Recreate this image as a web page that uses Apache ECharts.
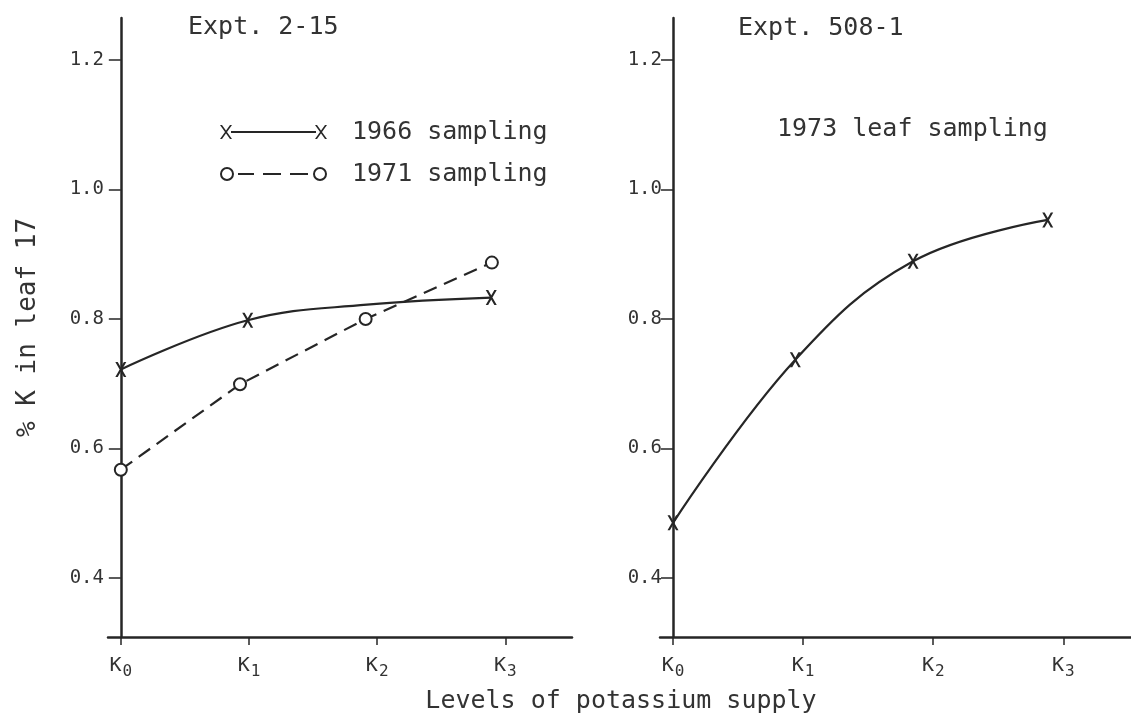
<!DOCTYPE html>
<html>
<head>
<meta charset="utf-8">
<script src="https://cdn.jsdelivr.net/npm/echarts@6/dist/echarts.min.js"></script>
<style>
html,body{margin:0;padding:0;background:#fff;}
#chart{width:1131px;height:715px;}
</style>
</head>
<body>
<div id="chart"></div>
<script>
// ---- data ----
const xTickLabels = ['K0', 'K1', 'K2', 'K3'];
const xTickValues = [0, 1, 2, 3];
const yTickValues = [0.4, 0.6, 0.8, 1.0, 1.2];

const s1966X = [0, 0.99, 1.92, 2.89];
const s1966Y = [0.722, 0.798, 0.822, 0.833];
const s1966Marked = [true, true, false, true];

const s1971X = [0, 0.93, 1.91, 2.895];
const s1971Y = [0.567, 0.699, 0.800, 0.887];

const s1973X = [0, 0.94, 1.845, 2.88];
const s1973Y = [0.485, 0.737, 0.889, 0.953];

const panelTitles = ['Expt. 2-15', 'Expt. 508-1'];
const rightNote = '1973 leaf sampling';
const seriesNames = ['1966 sampling', '1971 sampling'];
const yName = '% K in leaf 17';
const xName = 'Levels of potassium supply';

// ---- styling ----
const FONT = 'DejaVu Sans Mono';
const INK = '#262626';
const TXT = '#333333';
const X_SYMBOL = 'path://M0,0L2.2,0L10,14L7.8,14ZM7.8,0L10,0L2.2,14L0,14Z';

const ICON_X = 'path://M0,0L2,0L12,14L10,14ZM10,0L12,0L2,14L0,14Z' +
  'M11,6.1L96,6.1L96,8.1L11,8.1Z' +
  'M95,0L97,0L107,14L105,14ZM105,0L107,0L97,14L95,14Z';
const ICON_O = 'path://M0,7A7,7 0 1,1 14,7A7,7 0 1,1 0,7ZM2,7A5,5 0 1,0 12,7A5,5 0 1,0 2,7Z' +
  'M18,6L34,6L34,8L18,8Z' +
  'M43,6L61,6L61,8L43,8Z' +
  'M70,6L88,6L88,8L70,8Z' +
  'M93,7A7,7 0 1,1 107,7A7,7 0 1,1 93,7ZM95,7A5,5 0 1,0 105,7A5,5 0 1,0 95,7Z';

function pairs(xs, ys) { return xs.map((x, i) => [x, ys[i]]); }

function makeX(gridIndex) {
  return {
    type: 'value', gridIndex: gridIndex, min: -0.1, max: 3.52,
    axisLine: { onZero: false, lineStyle: { color: INK, width: 2.5 } },
    axisTick: { show: true, customValues: xTickValues, length: 8, inside: false,
      lineStyle: { color: INK, width: 1.5 } },
    axisLabel: {
      customValues: xTickValues, margin: 15,
      formatter: function (v) {
        const lab = xTickLabels[Math.round(v)];
        return '{k|' + lab.charAt(0) + '}{s|' + lab.slice(1) + '}';
      },
      rich: {
        k: { fontFamily: FONT, fontSize: 20, color: TXT, lineHeight: 22 },
        s: { fontFamily: FONT, fontSize: 16, color: TXT, padding: [12, 0, 0, 1] }
      }
    },
    splitLine: { show: false }
  };
}
function makeY(gridIndex, labelMargin, withName) {
  const ax = {
    type: 'value', gridIndex: gridIndex, min: 0.3085, max: 1.265,
    axisLine: { show: true, onZero: true, lineStyle: { color: INK, width: 2.5 } },
    axisTick: { show: true, customValues: yTickValues, length: 12, lineStyle: { color: INK, width: 1.5 } },
    axisLabel: { customValues: yTickValues, margin: labelMargin,
      formatter: function (v) { return v.toFixed(1); },
      fontFamily: FONT, fontSize: 19, color: TXT },
    splitLine: { show: false }
  };
  if (withName) {
    Object.assign(ax, {
      name: yName, nameLocation: 'middle', nameGap: 67, nameRotate: 90,
      nameTextStyle: { fontFamily: FONT, fontSize: 26, color: TXT }
    });
  }
  return ax;
}

const chart = echarts.init(document.getElementById('chart'), null, { renderer: 'canvas' });
chart.setOption({
  backgroundColor: '#ffffff',
  animation: false,
  title: [
    { text: panelTitles[0], left: 188, top: 15, padding: 0,
      textStyle: { fontFamily: FONT, fontSize: 25, fontWeight: 'normal', color: TXT } },
    { text: panelTitles[1], left: 738, top: 16, padding: 0,
      textStyle: { fontFamily: FONT, fontSize: 25, fontWeight: 'normal', color: TXT } },
    { text: rightNote, left: 777, top: 117, padding: 0,
      textStyle: { fontFamily: FONT, fontSize: 25, fontWeight: 'normal', color: TXT } },
    { text: xName, left: 621, top: 689, padding: 0, textAlign: 'center',
      textStyle: { fontFamily: FONT, fontSize: 25, fontWeight: 'normal', color: TXT } }
  ],
  legend: {
    left: 220, top: 119, padding: 0, orient: 'vertical',
    itemWidth: 107, itemHeight: 14, itemGap: 16,
    selectedMode: false,
    itemStyle: { color: INK, borderWidth: 0 },
    textStyle: { fontFamily: FONT, fontSize: 25, color: TXT, lineHeight: 26, padding: [0, 0, 0, 20] },
    data: [
      { name: seriesNames[0], icon: ICON_X },
      { name: seriesNames[1], icon: ICON_O }
    ]
  },
  grid: [
    { left: 108, width: 464, top: 18, bottom: 78 },
    { left: 660, right: 0, top: 18, bottom: 78 }
  ],
  xAxis: [makeX(0), makeX(1)],
  yAxis: [makeY(0, 4, true), makeY(1, -2, false)],
  series: [
    {
      name: seriesNames[0], type: 'line', xAxisIndex: 0, yAxisIndex: 0,
      smooth: 0.4,
      symbol: X_SYMBOL, symbolSize: [11, 15],
      itemStyle: { color: INK },
      lineStyle: { color: INK, width: 2.2 },
      emphasis: { disabled: true }, silent: true,
      data: pairs(s1966X, s1966Y).map((p, i) => s1966Marked[i] ? p : { value: p, symbol: 'none' })
    },
    {
      name: seriesNames[1], type: 'line', xAxisIndex: 0, yAxisIndex: 0,
      smooth: false,
      symbol: 'emptyCircle', symbolSize: 12,
      itemStyle: { color: INK, borderWidth: 1.8 },
      lineStyle: { color: INK, width: 2.2, type: [14, 8] },
      emphasis: { disabled: true }, silent: true,
      data: pairs(s1971X, s1971Y)
    },
    {
      name: rightNote, type: 'line', xAxisIndex: 1, yAxisIndex: 1,
      smooth: 0.4,
      symbol: X_SYMBOL, symbolSize: [11, 15],
      itemStyle: { color: INK },
      lineStyle: { color: INK, width: 2.2 },
      emphasis: { disabled: true }, silent: true,
      data: pairs(s1973X, s1973Y)
    }
  ]
});
</script>
</body>
</html>
